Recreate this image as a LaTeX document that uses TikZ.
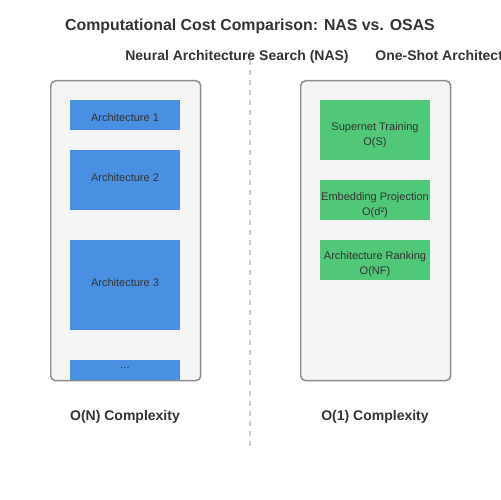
\documentclass[tikz,border=0pt]{standalone}
\usepackage{fontspec}
\setmainfont{Liberation Sans}
\definecolor{txtgray}{HTML}{333333}
\definecolor{panelfill}{HTML}{F4F4F4}
\definecolor{panelline}{HTML}{8C8C8C}
\definecolor{archblue}{HTML}{4A90E2}
\definecolor{osasgreen}{HTML}{50C878}
\definecolor{divgray}{HTML}{CCCCCC}
\begin{document}
\begin{tikzpicture}[x=0.02cm,y=-0.02cm]
% Canvas
\useasboundingbox (0,0) rectangle (500,500);
\clip (0,0) rectangle (500,500);

\tikzstyle{panel} = [draw=panelline, line width=0.85pt, fill=panelfill, rounded corners=2.8pt, anchor=north west, inner sep=0pt, minimum width=3cm, minimum height=6cm]
\tikzstyle{archbox} = [fill=archblue, anchor=north west, inner sep=0pt, minimum width=2.2cm]
\tikzstyle{stagebox} = [fill=osasgreen, anchor=north west, inner sep=0pt, minimum width=2.2cm]
\tikzstyle{boxtext} = [text=txtgray, inner sep=0pt, align=center, font=\fontsize{6.26pt}{8.54pt}\selectfont]
\tikzstyle{header} = [text=txtgray, inner sep=0pt, font=\fontsize{7.97pt}{9pt}\selectfont\bfseries]
\tikzstyle{divider} = [draw=divgray, line width=1.14pt, dash pattern=on 2.85pt off 2.85pt]

% Title
\node[text=txtgray, inner sep=0pt, font=\fontsize{9.03pt}{11pt}\selectfont\bfseries] (title) at (250,26) {Computational Cost Comparison: NAS vs. OSAS};

% Divider
\coordinate (divtop) at (250,50);
\coordinate (divbot) at (250,450);
\draw[divider] (divtop) -- (divbot);

% Headers
\node[header, anchor=west] (nashead) at (125,56.5) {Neural Architecture Search (NAS)};
\node[header, anchor=west] (osashead) at (375,56.5) {One-Shot Architecture Search (OSAS)};

% NAS panel
\node[panel] (naspanel) at (50,80) {};
\node[archbox, minimum height=0.6cm] (arch1) at (70,100) {};
\node[archbox, minimum height=1.2cm] (arch2) at (70,150) {};
\node[archbox, minimum height=1.8cm] (arch3) at (70,240) {};
\node[archbox, minimum height=0.4cm] (archdots) at (70,360) {};
\node[boxtext] (arch1t) at (125,117.5) {Architecture 1};
\node[boxtext] (arch2t) at (125,177.5) {Architecture 2};
\node[boxtext] (arch3t) at (125,282.5) {Architecture 3};
\node[boxtext] (archdotst) at (125,367.5) {...};

% OSAS panel
\node[panel] (osaspanel) at (300,80) {};
\node[stagebox, minimum height=1.2cm] (supernet) at (320,100) {};
\node[stagebox, minimum height=0.8cm] (embed) at (320,180) {};
\node[stagebox, minimum height=0.8cm] (rank) at (320,240) {};
\node[boxtext] (supernett) at (375,135) {Supernet Training\\O(S)};
\node[boxtext] (embedt) at (375,205) {Embedding Projection\\O(d²)};
\node[boxtext] (rankt) at (375,264.5) {Architecture Ranking\\O(NF)};

% Complexity labels
\node[header] (nascost) at (125,416.5) {O(N) Complexity};
\node[header] (osascost) at (375,416.5) {O(1) Complexity};

\end{tikzpicture}
\end{document}
